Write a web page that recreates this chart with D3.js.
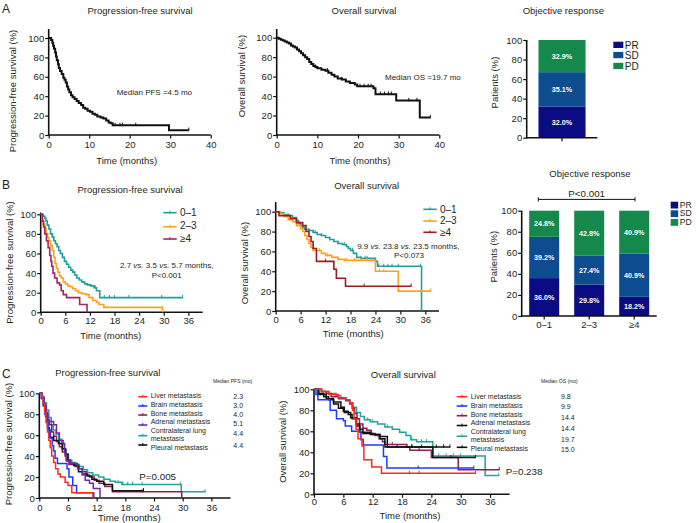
<!DOCTYPE html>
<html><head><meta charset="utf-8">
<script src="https://cdn.jsdelivr.net/npm/d3@7"></script>
<style>
body{margin:0;background:#fff}
svg{display:block}
text{font-family:"Liberation Sans",Arial,Helvetica,sans-serif;fill:#231f20}
</style>
</head><body>
<svg id="c" width="696" height="523"></svg>
<script>
// ---------------- DATA ----------------
const yTicks = [0, 20, 40, 60, 80, 100];
const xTicksA = [0, 10, 20, 30, 40];
const xTicksBC = [0, 6, 12, 18, 24, 30, 36];

// Panel A – Kaplan-Meier steps [months, survival %]
const aPfsSteps = [[0,100],[0.6,98],[0.9,95],[1.1,92],[1.3,89],[1.6,85],[1.8,81],[2.0,77],[2.3,73],[2.5,69],[2.8,66],[3.2,63],[3.6,59],[3.9,57],[4.2,54],[4.5,50],[4.8,47],[5.1,44],[5.5,41],[5.9,39],[6.4,37],[6.9,35],[7.4,33],[8.0,31],[8.5,28],[9.0,27],[9.6,25],[10.2,24],[10.8,22],[11.4,21],[12.0,19],[12.8,18],[13.5,17],[14.2,15],[14.8,13],[15.3,12],[15.8,10],[29.7,5]];
const aPfsEnd = 34.6;
const aPfsCensor = [16.4, 17.6, 18.2, 21.5, 34.6];

const aOsSteps = [[0,100],[0.5,99],[1,98],[1.5,97],[2,96],[2.5,95],[3,94],[3.5,92],[4,91],[4.5,90],[5,88],[5.5,86],[6,84],[6.5,82],[7,80],[7.5,78],[8,75],[8.5,73],[9,71],[9.5,70],[10,68.5],[11,67],[12,66],[12.7,64],[13.5,62],[14.2,60],[15,58],[16,57],[17,55],[18,53.5],[19.2,52],[19.8,50],[23.8,48],[24.3,42],[29.4,35.5],[35.2,18]];
const aOsEnd = 37.8;
const aOsCensor = [9.5, 12.5, 16, 20.5, 21.5, 22.5, 23.2, 25.5, 26.5, 27.5, 28.2, 32.5, 34.5, 37.8];

const aCategories = ["Objective response"];
const aPR = [32.0], aSD = [35.1], aPD = [32.9];

// Panel B – by number of metastatic sites
const bGroups = ["0–1", "2–3", "≥4"];
const bPfs01 = [[0,100],[0.6,98],[1.0,96],[1.3,93],[1.6,89],[2.0,85],[2.4,80],[2.8,77],[3.2,73],[3.6,70],[4.0,67],[4.4,63],[4.8,60],[5.3,56],[5.8,52],[6.3,49],[6.8,46],[7.3,43],[7.8,41],[8.3,38],[8.8,35],[9.4,33],[10.0,31],[10.7,29],[11.4,28],[12.2,27],[13.0,25],[13.6,22],[14.4,15]];
const bPfs01End = 34.6, bPfs01Censor = [13.3, 15.5, 16.8, 18.0, 21.5, 29.5, 34.6];
const bPfs23 = [[0,100],[0.3,95],[0.6,90],[1.0,86],[1.3,80],[1.7,76],[2.0,73],[2.4,68],[2.8,63],[3.2,56],[3.5,50],[3.8,45],[4.2,41],[4.6,37],[5.0,35],[5.5,31],[6.0,29],[6.6,27],[7.2,26],[7.8,24],[8.5,22],[9.2,20],[10.0,19],[11.0,18],[11.8,15],[12.7,12],[13.6,10],[14.2,8],[15.4,5],[29.7,0]];
const bPfs23End = 29.7, bPfs23Censor = [];
const bPfs4 = [[0,100],[0.4,93],[0.7,87],[1.0,80],[1.4,73],[1.8,66],[2.2,58],[2.5,52],[2.7,47],[3.0,40],[3.4,35],[4.0,30],[4.6,28],[5.0,22],[5.5,18],[6.3,15],[9.5,8],[11.3,0]];
const bPfs4End = 11.3, bPfs4Censor = [];

const bOs01 = [[0,100],[1,99],[2,97],[3,96],[4,94],[5,91],[5.5,88],[6,86],[6.5,84],[7,82],[8,81],[9,79],[10,77],[11,76],[12,74],[13,72],[14,70],[15,68],[16,67],[17,65],[17.5,63],[18,61],[18.7,58],[19.5,54],[20.5,53],[24,50],[24.5,45],[35.1,0]];
const bOs01End = 35.1, bOs01Censor = [3, 5, 8, 9.5, 11, 13, 15, 16.5, 18.5, 20.5, 21.5, 22, 24.8, 26, 27, 28, 29.5, 34.8];
const bOs23 = [[0,100],[1,98],[2,95],[3,92],[4,90],[5,86],[6,83],[6.5,80],[7,76],[7.5,72],[8,68],[8.5,64],[9,61],[11,58],[12,56],[13.5,54],[15,52],[16.5,51],[24,40],[29.5,20]];
const bOs23End = 37.3, bOs23Censor = [10.5, 12.5, 15, 17, 19, 20.5, 22, 23, 25, 26, 37.3];
const bOs4 = [[0,100],[0.8,96],[3.5,93],[5,89],[6.5,86],[7.3,80],[8,75],[8.5,70],[9,63],[9.8,50],[13.5,50],[14,42],[14.6,33],[16.8,25]];
const bOs4End = 32.6, bOs4Censor = [12, 21.3, 32.6];

const bPR = [36.0, 29.8, 18.2];
const bSD = [39.2, 27.4, 40.9];
const bPD = [24.8, 42.8, 40.9];

// Panel C – by metastatic site
const cSites = ["Liver metastasis", "Brain metastasis", "Bone metastasis", "Adrenal metastasis", "Contralateral lung", "metastasis", "Pleural metastasis"];
const cMedianPfs = ["2.3", "3.0", "4.0", "5.1", "4.4", "4.4"];
const cMedianOs = ["9.8", "9.9", "14.4", "14.4", "19.7", "15.0"];

const cPfsLiver = [[0,100],[0.5,97],[0.8,90],[1.1,82],[1.4,72],[1.7,63],[2.0,55],[2.3,48],[2.6,40],[3.0,34],[3.4,28],[3.9,23],[4.4,20],[5.4,15],[6.0,12],[6.8,5],[11.2,0]];
const cPfsBrain = [[0,100],[0.4,95],[0.8,88],[1.2,80],[1.6,72],[1.9,65],[2.3,57],[2.7,50],[3.0,45],[3.3,38],[3.8,33],[5.8,28],[6.2,20],[7.0,12],[7.8,5],[11.4,0]];
const cPfsBone = [[0,100],[0.5,97],[0.9,90],[1.3,82],[1.7,75],[2.1,70],[2.6,63],[3.0,59],[3.6,54],[4.2,49],[4.8,44],[5.4,40],[5.8,35],[6.2,32],[7.5,30],[8.3,28],[9.0,25],[9.8,22],[10.5,20],[11.5,17],[12.5,14],[13.7,11],[15.3,6],[29.8,0]];
const cPfsAdrenal = [[0,100],[0.6,95],[1.0,88],[1.4,80],[1.8,73],[3.0,70],[3.6,62],[4.2,55],[5.0,52],[5.3,43],[5.6,36],[6.5,33],[8.0,28],[9.0,22],[9.6,17],[10.5,14],[11.3,9],[12.7,0]];
const cPfsLung = [[0,100],[0.6,96],[1.0,91],[1.5,84],[2.0,77],[2.5,70],[2.9,65],[3.5,61],[4.1,56],[4.7,51],[5.2,46],[5.6,41],[6.1,36],[6.8,34],[7.6,32],[8.4,30],[9.2,27],[10.1,24],[11.2,22],[12.4,20],[13.5,18],[14.8,16],[15.9,15],[17.3,13],[29.7,6]];
const cPfsPleural = [[0,100],[0.5,96],[0.9,88],[1.3,78],[1.7,67],[2.1,58],[3.0,55],[4.0,52],[4.8,47],[5.5,42],[6.0,36],[6.5,33],[7.2,31],[8.2,25],[9.0,23],[10.0,21],[11.0,18],[12.0,16],[13.5,13],[15.3,7]];
const cPfsEnds = [11.2, 11.4, 29.8, 12.7, 34.7, 21.8];
const cPfsCensors = [[], [], [21.5], [], [16.5, 17.5, 18.5, 19.5, 21.5, 29.5, 34.7], [21.8]];

const cOsLiver = [[0,100],[1.6,98],[3.0,95],[5.0,92],[6.5,90],[7.3,87],[7.9,80],[8.2,72],[8.6,62],[9.0,53],[9.8,46],[10.2,33],[11.8,26],[13.8,20]];
const cOsBrain = [[0,100],[0.4,95],[0.8,90],[3.3,80],[4.6,72],[6.0,70],[6.4,65],[7.7,60],[9.6,52],[10.1,47],[14.2,36],[14.9,25]];
const cOsBone = [[0,100],[1.5,98],[2.5,96],[3.5,93],[5.0,91],[6.5,89],[7.3,86],[7.8,82],[8.3,77],[8.8,72],[9.3,67],[10.0,63],[10.8,61],[11.7,58],[12.5,56],[13.3,53],[14.0,50],[14.5,47.5],[19.0,45],[19.6,42],[24.0,35],[29.5,23.5]];
const cOsAdrenal = [[0,100],[1.0,96],[2.0,93],[3.0,90],[4.0,86],[5.0,82],[6.0,79],[7.0,76],[7.8,72],[8.6,67],[9.3,62],[10.0,58],[12.0,57],[13.5,53],[14.5,45]];
const cOsLung = [[0,100],[1.5,98],[3,96],[4.5,94],[5.5,92],[6.5,90],[7.3,87],[8.0,83],[8.7,78],[9.5,74],[10.3,71],[11.5,69],[13.0,67],[14.5,64],[16.0,62],[17.5,59],[18.8,56],[19.8,52],[21.0,50],[24.3,36.5],[35.0,18]];
const cOsPleural = [[0,100],[0.8,95],[2.5,91],[4.0,88],[5.5,83],[6.2,78],[7.5,73],[8.7,65],[9.4,59],[11.5,57],[13.5,55],[15.0,45],[24.0,45],[24.3,35]];
const cOsEnds = [33.0, 32.7, 37.9, 27.8, 37.8, 33.0];
const cOsCensors = [[19.5, 21.5, 33.0], [21.3, 32.7], [16, 21.5, 37.9], [17, 20, 22, 25, 26.5, 27.8], [11, 12, 13, 15, 17.5, 20, 22, 23, 25.5, 27, 28.5, 30, 37.8], [20, 28, 33.0]];

// ---------------- STYLE ----------------
const FS = 9.5;
const colTeal = "#1f9e9a", colOrange = "#ffa11a", colMagenta = "#a3245f", colDarkRed = "#9c1c1f";
const colPR = "#0c0c82", colSD = "#0d4c8e", colPD = "#15894c";
const cPfsColors = ["#ff2a1a", "#1a3cff", "#8e1e5c", "#6a2aa8", "#22a3a0", "#111111"];
const cOsColors = ["#ff2a1a", "#1a3cff", "#8e1e5c", "#111111", "#22a3a0", "#111111"];

const svg = d3.select("#c");

function survAt(steps, t) {
  let s = 100;
  for (const p of steps) { if (p[0] <= t) s = p[1]; else break; }
  return s;
}

function txt(x, y, s, opt = {}) {
  const t = svg.append("text").attr("x", x).attr("y", y).text(s)
    .attr("font-size", opt.fs || FS).attr("text-anchor", opt.anchor || "start");
  if (opt.weight) t.attr("font-weight", opt.weight);
  if (opt.fill) t.style("fill", opt.fill);
  return t;
}
function vtxt(x, y, s, fs) {
  svg.append("text").attr("transform", `translate(${x},${y}) rotate(-90)`)
    .attr("text-anchor", "middle").attr("font-size", fs || FS).text(s);
}

function styleAxis(ga) {
  ga.select(".domain").remove();
  ga.selectAll(".tick line").attr("stroke", "#111").attr("stroke-width", 1.2);
  ga.selectAll(".tick text").attr("font-size", FS).attr("font-family", '"Liberation Sans",Arial,sans-serif').style("fill", "#231f20");
}

function axes(cfg) {
  const x = d3.scaleLinear().domain([0, cfg.xmax]).range([cfg.left, cfg.right]);
  const y = d3.scaleLinear().domain([0, 100]).range([cfg.y0, cfg.y100]);
  const g = svg.append("g");
  const xa = g.append("g").attr("transform", `translate(0,${cfg.y0})`)
    .call(d3.axisBottom(x).tickValues(cfg.xticks).tickSize(3.5).tickPadding(cfg.xpad));
  const ya = g.append("g").attr("transform", `translate(${cfg.left},0)`)
    .call(d3.axisLeft(y).tickValues(yTicks).tickSize(3.5).tickPadding(1));
  styleAxis(xa); styleAxis(ya);
  g.append("line").attr("x1", cfg.left).attr("x2", cfg.right).attr("y1", cfg.y0).attr("y2", cfg.y0)
    .attr("stroke", "#111").attr("stroke-width", 1.6);
  g.append("line").attr("x1", cfg.left).attr("x2", cfg.left).attr("y1", cfg.y0 + 0.8).attr("y2", cfg.ytop)
    .attr("stroke", "#111").attr("stroke-width", 1.6);
  return { x, y, g };
}

function curve(ax, steps, end, censor, color, w) {
  const pts = steps.concat([[end, steps[steps.length - 1][1]]]);
  const line = d3.line().x(d => ax.x(d[0])).y(d => ax.y(d[1])).curve(d3.curveStepAfter);
  ax.g.append("path").datum(pts).attr("d", line).attr("fill", "none")
    .attr("stroke", color).attr("stroke-width", w).attr("stroke-linejoin", "miter");
  ax.g.selectAll(null).data(censor).join("line")
    .attr("x1", d => ax.x(d)).attr("x2", d => ax.x(d))
    .attr("y1", d => ax.y(survAt(steps, d)) - 2.6).attr("y2", d => ax.y(survAt(steps, d)) + 0.8)
    .attr("stroke", color).attr("stroke-width", 1);
}

function bars(cfg, cats, pr, sd, pd) {
  const x = d3.scaleBand().domain(cats).range([cfg.left, cfg.right]).paddingInner(cfg.pi).paddingOuter(cfg.po);
  const y = d3.scaleLinear().domain([0, 100]).range([cfg.y0, cfg.y100]);
  const g = svg.append("g");
  const series = [{ v: pr, c: colPR }, { v: sd, c: colSD }, { v: pd, c: colPD }];
  cats.forEach((cat, i) => {
    let base = 0;
    series.forEach(s => {
      const v = s.v[i];
      const top = (s === series[2]) ? 100 : base + v;
      g.append("rect").attr("x", x(cat)).attr("width", x.bandwidth())
        .attr("y", y(top)).attr("height", y(base) - y(top)).attr("fill", s.c);
      g.append("text").attr("x", x(cat) + x.bandwidth() / 2).attr("y", (y(base) + y(top)) / 2 + 2.6)
        .attr("text-anchor", "middle").attr("font-size", 7.2).attr("font-weight", "bold")
        .style("fill", "#fff").text(v.toFixed(1) + "%");
      base = top;
    });
  });
  const xa = g.append("g").attr("transform", `translate(0,${cfg.y0})`)
    .call(d3.axisBottom(x).tickSize(3.5).tickPadding(cfg.xpad));
  const ya = g.append("g").attr("transform", `translate(${cfg.left},0)`)
    .call(d3.axisLeft(y).tickValues(yTicks).tickSize(3.5).tickPadding(1));
  styleAxis(xa); styleAxis(ya);
  if (!cfg.showCats) xa.selectAll(".tick text").remove();
  g.append("line").attr("x1", cfg.left).attr("x2", cfg.right).attr("y1", cfg.y0).attr("y2", cfg.y0)
    .attr("stroke", "#111").attr("stroke-width", 1.6);
  g.append("line").attr("x1", cfg.left).attr("x2", cfg.left).attr("y1", cfg.y0 + 0.8).attr("y2", cfg.y100)
    .attr("stroke", "#111").attr("stroke-width", 1.6);
  return { x, y, g };
}

function barLegend(x, ys, h, w, tys, fs) {
  const labs = ["PR", "SD", "PD"], cols = [colPR, colSD, colPD];
  labs.forEach((l, i) => {
    svg.append("rect").attr("x", x).attr("y", ys[i]).attr("width", w).attr("height", h).attr("fill", cols[i]);
    txt(x + w + 1.5, tys[i], l, { fs });
  });
}

function kmLegend(x1, x2, tx, rows, trows, labels, colors, fs) {
  labels.forEach((l, i) => {
    if (colors[i]) {
      svg.append("line").attr("x1", x1).attr("x2", x2).attr("y1", rows[i]).attr("y2", rows[i])
        .attr("stroke", colors[i]).attr("stroke-width", 1.6);
      const m = (x1 + x2) / 2;
      svg.append("line").attr("x1", m).attr("x2", m).attr("y1", rows[i] - 2).attr("y2", rows[i] + 0.8)
        .attr("stroke", colors[i]).attr("stroke-width", 1);
    }
    txt(tx, trows[i], l, { fs });
  });
}

// ---------------- PANEL A ----------------
txt(2, 12.5, "A", { fs: 12 });
{
  const ax = axes({ left: 48.7, right: 210.7, y0: 135, y100: 38, ytop: 29, xmax: 40, xticks: xTicksA, xpad: 3 });
  curve(ax, aPfsSteps, aPfsEnd, aPfsCensor, "#111", 2);
  txt(140, 14, "Progression-free survival", { anchor: "middle" });
  txt(126.7, 164, "Time (months)", { anchor: "middle" });
  vtxt(16, 91, "Progression-free survival (%)");
  txt(116.7, 95, "Median PFS =4.5 mo", { fs: 8 });
}
{
  const ax = axes({ left: 276.7, right: 439.3, y0: 135, y100: 37.7, ytop: 29, xmax: 40, xticks: xTicksA, xpad: 3 });
  curve(ax, aOsSteps, aOsEnd, aOsCensor, "#111", 2);
  txt(364, 14, "Overall survival", { anchor: "middle" });
  txt(360, 163.5, "Time (months)", { anchor: "middle" });
  vtxt(244.5, 76, "Overall survival (%)");
  txt(385, 80, "Median OS =19.7 mo", { fs: 8 });
}
{
  bars({ left: 526.7, right: 597.3, y0: 137.7, y100: 40, pi: 0.2, po: 0.2, xpad: 3, showCats: false }, aCategories, aPR, aSD, aPD);
  txt(563.3, 14, "Objective response", { anchor: "middle" });
  vtxt(498, 82.5, "Patients (%)");
  barLegend(613.3, [41.7, 51.9, 62.8], 6.3, 10, [48.5, 58.5, 69.5], FS + 0.5);
}

// ---------------- PANEL B ----------------
txt(2, 188.5, "B", { fs: 12 });
{
  const ax = axes({ left: 40.7, right: 202.7, y0: 312.3, y100: 214.3, ytop: 212.5, xmax: 39.5, xticks: xTicksBC, xpad: 1.5 });
  curve(ax, bPfs01, bPfs01End, bPfs01Censor, colTeal, 1.6);
  curve(ax, bPfs23, bPfs23End, bPfs23Censor, colOrange, 1.6);
  curve(ax, bPfs4, bPfs4End, bPfs4Censor, colMagenta, 1.6);
  txt(130, 192.5, "Progression-free survival", { anchor: "middle" });
  txt(110.7, 338.5, "Time (months)", { anchor: "middle" });
  vtxt(13, 262.5, "Progression-free survival (%)");
  kmLegend(163.3, 176.7, 180, [212.7, 226.7, 239], [215.8, 229.3, 241.8], bGroups, [colTeal, colOrange, colMagenta], 10);
  const t = svg.append("text").attr("x", 166.7).attr("y", 268).attr("text-anchor", "middle").attr("font-size", 8);
  t.append("tspan").text("2.7 ");
  t.append("tspan").attr("font-style", "italic").text("vs.");
  t.append("tspan").text(" 3.5 ");
  t.append("tspan").attr("font-style", "italic").text("vs.");
  t.append("tspan").text(" 5.7 months,");
  txt(166.7, 277.5, "P<0.001", { anchor: "middle", fs: 8 });
}
{
  const ax = axes({ left: 275.7, right: 439, y0: 311, y100: 211.7, ytop: 202, xmax: 39.3, xticks: xTicksBC, xpad: 1.5 });
  curve(ax, bOs01, bOs01End, bOs01Censor, colTeal, 1.6);
  curve(ax, bOs23, bOs23End, bOs23Censor, colOrange, 1.6);
  curve(ax, bOs4, bOs4End, bOs4Censor, colDarkRed, 1.6);
  txt(366.7, 188.5, "Overall survival", { anchor: "middle" });
  txt(353.3, 337, "Time (months)", { anchor: "middle" });
  vtxt(247.5, 263, "Overall survival (%)");
  kmLegend(423.3, 436.7, 440, [209.3, 221, 232.3], [212.8, 224.4, 236], bGroups, [colTeal, colOrange, colDarkRed], 10);
  const t = svg.append("text").attr("x", 408.3).attr("y", 249).attr("text-anchor", "middle").attr("font-size", 8);
  t.append("tspan").text("9.9 ");
  t.append("tspan").attr("font-style", "italic").text("vs.");
  t.append("tspan").text(" 23.8 ");
  t.append("tspan").attr("font-style", "italic").text("vs.");
  t.append("tspan").text(" 23.5 months,");
  txt(409, 258, "P<0.073", { anchor: "middle", fs: 8 });
}
{
  bars({ left: 521.7, right: 656.7, y0: 316, y100: 210.7, pi: 1 / 3, po: 1 / 6, xpad: 2, showCats: true }, bGroups, bPR, bSD, bPD);
  // shared label: x-axis title of panel A bar chart and title of panel B bar chart coincide
  txt(590, 176.5, "Objective response", { anchor: "middle" });
  vtxt(496.5, 256.7, "Patients (%)");
  barLegend(670.7, [201.7, 210.3, 219], 6.8, 7.5, [207.8, 216.4, 225], 8.6);
  svg.append("path").attr("d", "M538.3,197.3V201.5M538.3,199.4H635M635,197.3V201.5")
    .attr("stroke", "#111").attr("stroke-width", 1).attr("fill", "none");
  txt(586.7, 196.5, "P<0.001", { anchor: "middle", fs: 9.8 });
}

// ---------------- PANEL C ----------------
txt(2, 377.5, "C", { fs: 12 });
{
  const ax = axes({ left: 39.3, right: 230.5, y0: 498, y100: 393.3, ytop: 393.3, xmax: 40, xticks: xTicksBC, xpad: 2.5 });
  const cur = [cPfsLiver, cPfsBrain, cPfsBone, cPfsAdrenal, cPfsLung, cPfsPleural];
  [4, 2, 5, 3, 1, 0].forEach(i => curve(ax, cur[i], cPfsEnds[i], cPfsCensors[i], cPfsColors[i], 1.5));
  txt(107.8, 376, "Progression-free survival", { anchor: "middle" });
  txt(129.3, 520.5, "Time (months)", { anchor: "middle", fs: 9.8 });
  vtxt(11.5, 444, "Progression-free survival (%)");
  kmLegend(138.3, 147.3, 150.7, [396.7, 406, 415, 425, null, 435.7, 445],
    [398.3, 407, 415.5, 424, 432.5, 441.3, 449.5], cSites,
    [cPfsColors[0], cPfsColors[1], cPfsColors[2], cPfsColors[3], null, cPfsColors[4], cPfsColors[5]], 7);
  txt(213, 383, "Median PFS (mo)", { fs: 5 });
  const vy = [398.5, 407.5, 416.8, 426.3, 436.3, 448.3];
  cMedianPfs.forEach((v, i) => txt(233.3, vy[i], v, { fs: 7 }));
  txt(139.3, 480, "P=0.005", { fs: 9.8 });
}
{
  const ax = axes({ left: 314, right: 509.6, y0: 494.3, y100: 389.3, ytop: 389.3, xmax: 40, xticks: xTicksBC, xpad: 0.5 });
  const cur = [cOsLiver, cOsBrain, cOsBone, cOsAdrenal, cOsLung, cOsPleural];
  [4, 2, 5, 3, 1, 0].forEach(i => curve(ax, cur[i], cOsEnds[i], cOsCensors[i], cOsColors[i], 1.5));
  txt(403.3, 378, "Overall survival", { anchor: "middle" });
  txt(410, 519, "Time (months)", { anchor: "middle" });
  vtxt(286, 441.7, "Overall survival (%)");
  kmLegend(456.7, 467.3, 470.7, [396.7, 406, 415.7, 425.5, null, 436.3, 447.3],
    [399, 407.7, 416.7, 425, 433.7, 442.3, 451], cSites,
    [cOsColors[0], cOsColors[1], cOsColors[2], cOsColors[3], null, cOsColors[4], cOsColors[5]], 7);
  txt(541, 383, "Median OS (mo)", { fs: 5 });
  const vy = [399, 409, 420, 431.3, 441.7, 451.7];
  cMedianOs.forEach((v, i) => txt(561, vy[i], v, { fs: 7 }));
  txt(505.7, 475, "P=0.238", { fs: 9.8 });
}
</script>
</body></html>
